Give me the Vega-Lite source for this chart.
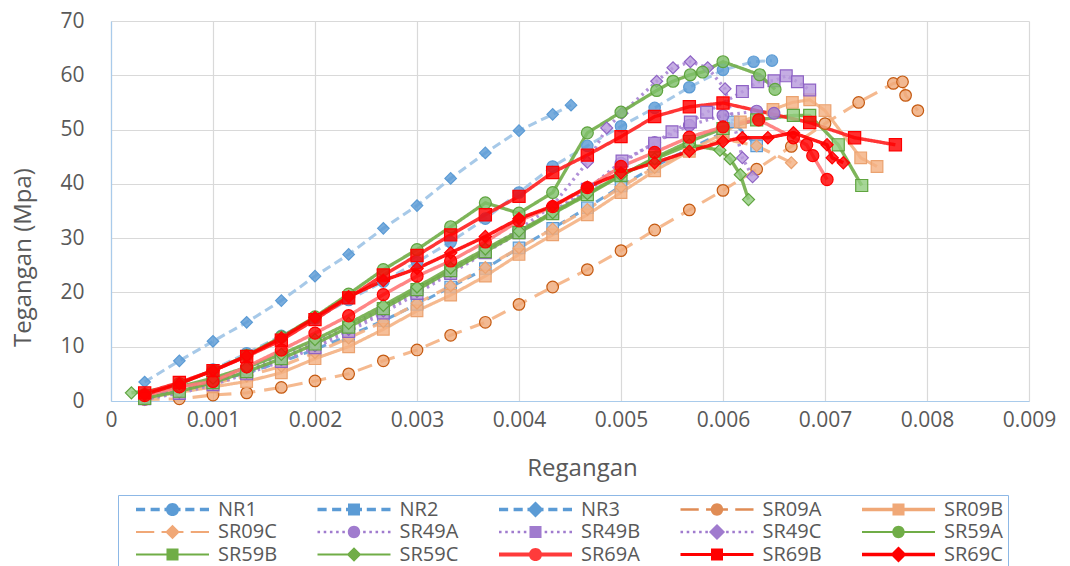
{
"$schema": "https://vega.github.io/schema/vega-lite/v6.json",
"width": 918, "height": 380,
"autosize": {"type": "none"},
"padding": {"left": 111, "top": 21, "right": 41, "bottom": 165},
"background": "white",
"config": {
  "view": {"stroke": null},
  "font": "Open Sans",
  "axis": {"labelFont": "Open Sans", "labelFontSize": 21, "labelColor": "#595959", "titleFont": "Open Sans", "titleFontSize": 24, "titleFontWeight": "normal", "titleColor": "#595959", "gridColor": "#D9D9D9", "gridWidth": 1.2, "domainColor": "#A9CBEB", "domainWidth": 1.2, "ticks": false, "tickSize": 0}
},
"data": {"values": [
{"s":"NR1","x":0.00033,"y":1.0},{"s":"NR1","x":0.00067,"y":3.0},{"s":"NR1","x":0.001,"y":5.8},{"s":"NR1","x":0.00133,"y":8.8},{"s":"NR1","x":0.00167,"y":12},{"s":"NR1","x":0.002,"y":15.2},{"s":"NR1","x":0.00233,"y":18.6},{"s":"NR1","x":0.00267,"y":22},{"s":"NR1","x":0.003,"y":25.6},{"s":"NR1","x":0.00333,"y":29.3},{"s":"NR1","x":0.00367,"y":33.6},{"s":"NR1","x":0.004,"y":38.4},{"s":"NR1","x":0.00433,"y":43.2},{"s":"NR1","x":0.00467,"y":47},{"s":"NR1","x":0.005,"y":50.6},{"s":"NR1","x":0.00533,"y":54},{"s":"NR1","x":0.00567,"y":57.8},{"s":"NR1","x":0.006,"y":61},{"s":"NR1","x":0.0063,"y":62.5},{"s":"NR1","x":0.00648,"y":62.7},
{"s":"NR2","x":0.00033,"y":0.8},{"s":"NR2","x":0.00067,"y":2},{"s":"NR2","x":0.001,"y":3.5},{"s":"NR2","x":0.00133,"y":5.2},{"s":"NR2","x":0.00167,"y":7.2},{"s":"NR2","x":0.002,"y":9.5},{"s":"NR2","x":0.00233,"y":12},{"s":"NR2","x":0.00267,"y":14.8},{"s":"NR2","x":0.003,"y":17.8},{"s":"NR2","x":0.00333,"y":21},{"s":"NR2","x":0.00367,"y":24.4},{"s":"NR2","x":0.004,"y":28.2},{"s":"NR2","x":0.00433,"y":31.8},{"s":"NR2","x":0.00467,"y":35.6},{"s":"NR2","x":0.005,"y":39.6},{"s":"NR2","x":0.00533,"y":43.2},{"s":"NR2","x":0.00567,"y":46.5},{"s":"NR2","x":0.006,"y":49.4},{"s":"NR2","x":0.0061,"y":51.4},{"s":"NR2","x":0.00633,"y":47},
{"s":"NR3","x":0.00033,"y":3.5},{"s":"NR3","x":0.00067,"y":7.4},{"s":"NR3","x":0.001,"y":11},{"s":"NR3","x":0.00133,"y":14.5},{"s":"NR3","x":0.00167,"y":18.5},{"s":"NR3","x":0.002,"y":23},{"s":"NR3","x":0.00233,"y":27},{"s":"NR3","x":0.00267,"y":31.8},{"s":"NR3","x":0.003,"y":36},{"s":"NR3","x":0.00333,"y":41},{"s":"NR3","x":0.00367,"y":45.7},{"s":"NR3","x":0.004,"y":49.8},{"s":"NR3","x":0.00433,"y":52.8},{"s":"NR3","x":0.00451,"y":54.5},
{"s":"SR09A","x":0.00033,"y":0.3},{"s":"SR09A","x":0.00067,"y":0.4},{"s":"SR09A","x":0.001,"y":1.1},{"s":"SR09A","x":0.00133,"y":1.5},{"s":"SR09A","x":0.00167,"y":2.5},{"s":"SR09A","x":0.002,"y":3.7},{"s":"SR09A","x":0.00233,"y":5},{"s":"SR09A","x":0.00267,"y":7.4},{"s":"SR09A","x":0.003,"y":9.4},{"s":"SR09A","x":0.00333,"y":12.1},{"s":"SR09A","x":0.00367,"y":14.5},{"s":"SR09A","x":0.004,"y":17.8},{"s":"SR09A","x":0.00433,"y":21},{"s":"SR09A","x":0.00467,"y":24.2},{"s":"SR09A","x":0.005,"y":27.7},{"s":"SR09A","x":0.00533,"y":31.5},{"s":"SR09A","x":0.00567,"y":35.2},{"s":"SR09A","x":0.006,"y":38.8},{"s":"SR09A","x":0.00633,"y":42.7},{"s":"SR09A","x":0.00667,"y":46.9},{"s":"SR09A","x":0.007,"y":51.1},{"s":"SR09A","x":0.00733,"y":55},{"s":"SR09A","x":0.00767,"y":58.5},{"s":"SR09A","x":0.00776,"y":58.8},{"s":"SR09A","x":0.00779,"y":56.3},{"s":"SR09A","x":0.00791,"y":53.5},
{"s":"SR09B","x":0.00033,"y":0.6},{"s":"SR09B","x":0.00067,"y":1.6},{"s":"SR09B","x":0.001,"y":2.6},{"s":"SR09B","x":0.00133,"y":3.6},{"s":"SR09B","x":0.00167,"y":5.2},{"s":"SR09B","x":0.002,"y":7.8},{"s":"SR09B","x":0.00233,"y":10},{"s":"SR09B","x":0.00267,"y":13.2},{"s":"SR09B","x":0.003,"y":16.6},{"s":"SR09B","x":0.00333,"y":19.5},{"s":"SR09B","x":0.00367,"y":23},{"s":"SR09B","x":0.004,"y":27},{"s":"SR09B","x":0.00433,"y":30.6},{"s":"SR09B","x":0.00467,"y":34.3},{"s":"SR09B","x":0.005,"y":38.4},{"s":"SR09B","x":0.00533,"y":42.4},{"s":"SR09B","x":0.00567,"y":46},{"s":"SR09B","x":0.006,"y":49.3},{"s":"SR09B","x":0.00617,"y":51.4},{"s":"SR09B","x":0.00649,"y":53.7},{"s":"SR09B","x":0.00668,"y":55},{"s":"SR09B","x":0.00685,"y":55.5},{"s":"SR09B","x":0.007,"y":53.5},{"s":"SR09B","x":0.00735,"y":44.8},{"s":"SR09B","x":0.00751,"y":43.2},
{"s":"SR09C","x":0.00033,"y":0.7},{"s":"SR09C","x":0.00067,"y":2},{"s":"SR09C","x":0.001,"y":3.2},{"s":"SR09C","x":0.00133,"y":4.6},{"s":"SR09C","x":0.00167,"y":6.4},{"s":"SR09C","x":0.002,"y":8.9},{"s":"SR09C","x":0.00233,"y":11.6},{"s":"SR09C","x":0.00267,"y":14.6},{"s":"SR09C","x":0.003,"y":18},{"s":"SR09C","x":0.00333,"y":21.2},{"s":"SR09C","x":0.00367,"y":24.6},{"s":"SR09C","x":0.004,"y":28.2},{"s":"SR09C","x":0.00433,"y":31.7},{"s":"SR09C","x":0.00467,"y":35.3},{"s":"SR09C","x":0.005,"y":39.4},{"s":"SR09C","x":0.00533,"y":43},{"s":"SR09C","x":0.00567,"y":46},{"s":"SR09C","x":0.006,"y":48.3},{"s":"SR09C","x":0.00633,"y":47},{"s":"SR09C","x":0.00667,"y":43.9},
{"s":"SR49A","x":0.00033,"y":0.5},{"s":"SR49A","x":0.00067,"y":1.9},{"s":"SR49A","x":0.001,"y":3.6},{"s":"SR49A","x":0.00133,"y":5.7},{"s":"SR49A","x":0.00167,"y":8.2},{"s":"SR49A","x":0.002,"y":10.8},{"s":"SR49A","x":0.00233,"y":13.8},{"s":"SR49A","x":0.00267,"y":17.2},{"s":"SR49A","x":0.003,"y":20.6},{"s":"SR49A","x":0.00333,"y":24.2},{"s":"SR49A","x":0.00367,"y":27.8},{"s":"SR49A","x":0.004,"y":31.3},{"s":"SR49A","x":0.00433,"y":34.8},{"s":"SR49A","x":0.00467,"y":38.4},{"s":"SR49A","x":0.005,"y":43.8},{"s":"SR49A","x":0.00533,"y":47.6},{"s":"SR49A","x":0.00567,"y":50.8},{"s":"SR49A","x":0.006,"y":52.6},{"s":"SR49A","x":0.00633,"y":53.4},{"s":"SR49A","x":0.0065,"y":53},
{"s":"SR49B","x":0.00033,"y":0.4},{"s":"SR49B","x":0.00067,"y":1.4},{"s":"SR49B","x":0.001,"y":3},{"s":"SR49B","x":0.00133,"y":5},{"s":"SR49B","x":0.00167,"y":7.3},{"s":"SR49B","x":0.002,"y":9.8},{"s":"SR49B","x":0.00233,"y":12.8},{"s":"SR49B","x":0.00267,"y":16.2},{"s":"SR49B","x":0.003,"y":19.8},{"s":"SR49B","x":0.00333,"y":23.5},{"s":"SR49B","x":0.00367,"y":27.3},{"s":"SR49B","x":0.004,"y":31},{"s":"SR49B","x":0.00433,"y":34.8},{"s":"SR49B","x":0.00467,"y":39},{"s":"SR49B","x":0.00501,"y":44.2},{"s":"SR49B","x":0.00533,"y":47.5},{"s":"SR49B","x":0.0055,"y":49.6},{"s":"SR49B","x":0.00568,"y":51.4},{"s":"SR49B","x":0.00584,"y":53.2},{"s":"SR49B","x":0.00619,"y":57},{"s":"SR49B","x":0.00634,"y":58.8},{"s":"SR49B","x":0.0065,"y":59},{"s":"SR49B","x":0.00662,"y":59.9},{"s":"SR49B","x":0.00673,"y":58.8},{"s":"SR49B","x":0.00685,"y":57.3},
{"s":"SR49C","x":0.00033,"y":0.3},{"s":"SR49C","x":0.00067,"y":1.6},{"s":"SR49C","x":0.001,"y":3.3},{"s":"SR49C","x":0.00133,"y":5.3},{"s":"SR49C","x":0.00167,"y":7.6},{"s":"SR49C","x":0.002,"y":10.2},{"s":"SR49C","x":0.00233,"y":13.2},{"s":"SR49C","x":0.00267,"y":16.6},{"s":"SR49C","x":0.003,"y":20.2},{"s":"SR49C","x":0.00333,"y":23.8},{"s":"SR49C","x":0.00367,"y":27.6},{"s":"SR49C","x":0.004,"y":31.6},{"s":"SR49C","x":0.00433,"y":36},{"s":"SR49C","x":0.00467,"y":44},{"s":"SR49C","x":0.00486,"y":50.3},{"s":"SR49C","x":0.00501,"y":53},{"s":"SR49C","x":0.00535,"y":58.9},{"s":"SR49C","x":0.00551,"y":61.4},{"s":"SR49C","x":0.00568,"y":62.5},{"s":"SR49C","x":0.00585,"y":61.4},{"s":"SR49C","x":0.00602,"y":57.5},{"s":"SR49C","x":0.00619,"y":44.8},{"s":"SR49C","x":0.00629,"y":41.3},
{"s":"SR59A","x":0.00033,"y":1.2},{"s":"SR59A","x":0.00067,"y":3.2},{"s":"SR59A","x":0.001,"y":5.6},{"s":"SR59A","x":0.00133,"y":8.4},{"s":"SR59A","x":0.00167,"y":11.8},{"s":"SR59A","x":0.002,"y":15.5},{"s":"SR59A","x":0.00233,"y":19.7},{"s":"SR59A","x":0.00267,"y":24.2},{"s":"SR59A","x":0.003,"y":27.9},{"s":"SR59A","x":0.00333,"y":32.1},{"s":"SR59A","x":0.00367,"y":36.5},{"s":"SR59A","x":0.004,"y":34.6},{"s":"SR59A","x":0.00433,"y":38.4},{"s":"SR59A","x":0.00467,"y":49.4},{"s":"SR59A","x":0.005,"y":53.2},{"s":"SR59A","x":0.00535,"y":57.2},{"s":"SR59A","x":0.00551,"y":58.9},{"s":"SR59A","x":0.00568,"y":60.1},{"s":"SR59A","x":0.0058,"y":60.6},{"s":"SR59A","x":0.006,"y":62.5},{"s":"SR59A","x":0.00636,"y":60.1},{"s":"SR59A","x":0.00651,"y":57.4},
{"s":"SR59B","x":0.00033,"y":0.5},{"s":"SR59B","x":0.00067,"y":1.8},{"s":"SR59B","x":0.001,"y":3.4},{"s":"SR59B","x":0.00133,"y":5.4},{"s":"SR59B","x":0.00167,"y":7.8},{"s":"SR59B","x":0.002,"y":10.5},{"s":"SR59B","x":0.00233,"y":13.6},{"s":"SR59B","x":0.00267,"y":17},{"s":"SR59B","x":0.003,"y":20.5},{"s":"SR59B","x":0.00333,"y":24},{"s":"SR59B","x":0.00367,"y":27.5},{"s":"SR59B","x":0.004,"y":31},{"s":"SR59B","x":0.00433,"y":34.5},{"s":"SR59B","x":0.00467,"y":38},{"s":"SR59B","x":0.005,"y":41.5},{"s":"SR59B","x":0.00533,"y":44.8},{"s":"SR59B","x":0.00567,"y":47.8},{"s":"SR59B","x":0.006,"y":50.2},{"s":"SR59B","x":0.00633,"y":51.8},{"s":"SR59B","x":0.00669,"y":52.6},{"s":"SR59B","x":0.00685,"y":52.6},{"s":"SR59B","x":0.00713,"y":47.2},{"s":"SR59B","x":0.00736,"y":39.7},
{"s":"SR59C","x":0.0002,"y":1.5},{"s":"SR59C","x":0.00067,"y":2.6},{"s":"SR59C","x":0.001,"y":4.2},{"s":"SR59C","x":0.00133,"y":6.2},{"s":"SR59C","x":0.00167,"y":8.6},{"s":"SR59C","x":0.002,"y":11.3},{"s":"SR59C","x":0.00233,"y":14.3},{"s":"SR59C","x":0.00267,"y":17.6},{"s":"SR59C","x":0.003,"y":21},{"s":"SR59C","x":0.00333,"y":24.5},{"s":"SR59C","x":0.00367,"y":28},{"s":"SR59C","x":0.004,"y":31.3},{"s":"SR59C","x":0.00433,"y":34.7},{"s":"SR59C","x":0.00467,"y":38.2},{"s":"SR59C","x":0.005,"y":41.6},{"s":"SR59C","x":0.00533,"y":44.6},{"s":"SR59C","x":0.00567,"y":47.2},{"s":"SR59C","x":0.00597,"y":46.2},{"s":"SR59C","x":0.00607,"y":44.6},{"s":"SR59C","x":0.00617,"y":41.7},{"s":"SR59C","x":0.00625,"y":37.1},
{"s":"SR69A","x":0.00033,"y":1},{"s":"SR69A","x":0.00067,"y":2.6},{"s":"SR69A","x":0.001,"y":3.6},{"s":"SR69A","x":0.00133,"y":6.3},{"s":"SR69A","x":0.00167,"y":9.4},{"s":"SR69A","x":0.002,"y":12.5},{"s":"SR69A","x":0.00233,"y":15.7},{"s":"SR69A","x":0.00267,"y":19.6},{"s":"SR69A","x":0.003,"y":23},{"s":"SR69A","x":0.00333,"y":25.8},{"s":"SR69A","x":0.00367,"y":29.3},{"s":"SR69A","x":0.004,"y":33.2},{"s":"SR69A","x":0.00433,"y":35.8},{"s":"SR69A","x":0.00467,"y":39.3},{"s":"SR69A","x":0.005,"y":43.2},{"s":"SR69A","x":0.00533,"y":45.8},{"s":"SR69A","x":0.00567,"y":48.6},{"s":"SR69A","x":0.006,"y":50.5},{"s":"SR69A","x":0.00635,"y":51.8},{"s":"SR69A","x":0.00669,"y":48.5},{"s":"SR69A","x":0.00682,"y":47.2},{"s":"SR69A","x":0.00688,"y":45.2},{"s":"SR69A","x":0.00702,"y":40.8},
{"s":"SR69B","x":0.00033,"y":1.5},{"s":"SR69B","x":0.00067,"y":3.4},{"s":"SR69B","x":0.001,"y":5.6},{"s":"SR69B","x":0.00133,"y":8.2},{"s":"SR69B","x":0.00167,"y":11.2},{"s":"SR69B","x":0.002,"y":15},{"s":"SR69B","x":0.00233,"y":19},{"s":"SR69B","x":0.00267,"y":23.2},{"s":"SR69B","x":0.003,"y":26.8},{"s":"SR69B","x":0.00333,"y":30.6},{"s":"SR69B","x":0.00367,"y":34.3},{"s":"SR69B","x":0.004,"y":37.7},{"s":"SR69B","x":0.00433,"y":42.1},{"s":"SR69B","x":0.00467,"y":45.3},{"s":"SR69B","x":0.005,"y":48.7},{"s":"SR69B","x":0.00533,"y":52.4},{"s":"SR69B","x":0.00567,"y":54.2},{"s":"SR69B","x":0.006,"y":54.9},{"s":"SR69B","x":0.00685,"y":51.3},{"s":"SR69B","x":0.00729,"y":48.5},{"s":"SR69B","x":0.00769,"y":47.2},
{"s":"SR69C","x":0.00033,"y":1.2},{"s":"SR69C","x":0.00067,"y":3.2},{"s":"SR69C","x":0.001,"y":5.6},{"s":"SR69C","x":0.00133,"y":8.3},{"s":"SR69C","x":0.00167,"y":11.6},{"s":"SR69C","x":0.002,"y":15.4},{"s":"SR69C","x":0.00233,"y":19.2},{"s":"SR69C","x":0.00267,"y":22.2},{"s":"SR69C","x":0.003,"y":24.4},{"s":"SR69C","x":0.00333,"y":27.3},{"s":"SR69C","x":0.00367,"y":30.3},{"s":"SR69C","x":0.004,"y":33.6},{"s":"SR69C","x":0.00433,"y":35.9},{"s":"SR69C","x":0.00467,"y":39.4},{"s":"SR69C","x":0.005,"y":42},{"s":"SR69C","x":0.00533,"y":43.9},{"s":"SR69C","x":0.00567,"y":46},{"s":"SR69C","x":0.006,"y":47.8},{"s":"SR69C","x":0.00619,"y":48.5},{"s":"SR69C","x":0.00644,"y":48.5},{"s":"SR69C","x":0.00669,"y":49.4},{"s":"SR69C","x":0.00702,"y":47.2},{"s":"SR69C","x":0.00707,"y":44.8},{"s":"SR69C","x":0.00718,"y":43.9}
]},
"encoding": {
  "x": {"field": "x", "type": "quantitative", "scale": {"domain": [0, 0.009], "nice": false, "zero": false},
        "axis": {"values": [0,0.001,0.002,0.003,0.004,0.005,0.006,0.007,0.008,0.009], "format": ".3~f", "labelPadding": 8, "labelFlush": false, "labelOverlap": false, "title": "Regangan", "titlePadding": 26, "titleX": 471}},
  "y": {"field": "y", "type": "quantitative", "scale": {"domain": [0, 70], "nice": false},
        "axis": {"values": [0,10,20,30,40,50,60,70], "labelPadding": 27, "labelFlush": false, "labelOverlap": false, "title": "Tegangan (Mpa)", "titlePadding": 24, "titleY": 236}}
},
"layer": [
  {
    "mark": {"type": "line", "strokeOpacity": 0.9},
    "encoding": {
      "stroke": {"field": "s", "type": "nominal", "legend": null,
        "scale": {"domain": ["NR1","NR2","NR3","SR09A","SR09B","SR09C","SR49A","SR49B","SR49C","SR59A","SR59B","SR59C","SR69A","SR69B","SR69C"],
                  "range": ["#9DC3E6","#5B9BD5","#9DC3E6","#F4B183","#F4B183","#F4B183","#A985D4","#A985D4","#A985D4","#70AD47","#70AD47","#70AD47","#FF7878","#FF1F1F","#FF0000"]}},
      "strokeDash": {"field": "s", "type": "nominal", "legend": null,
        "scale": {"domain": ["NR1","NR2","NR3","SR09A","SR09B","SR09C","SR49A","SR49B","SR49C","SR59A","SR59B","SR59C","SR69A","SR69B","SR69C"],
                  "range": [[9,5],[9,6],[9,5],[15,9],[1,0],[15,9],[2.5,4],[2.5,4],[2.5,4],[1,0],[1,0],[1,0],[1,0],[1,0],[1,0]]}},
      "strokeWidth": {"field": "s", "type": "nominal", "legend": null,
        "scale": {"domain": ["NR1","NR2","NR3","SR09A","SR09B","SR09C","SR49A","SR49B","SR49C","SR59A","SR59B","SR59C","SR69A","SR69B","SR69C"],
                  "range": [3,3.5,3,2,3.2,1.6,2.5,2.5,2.5,1.6,1.6,1.6,4,2,3.2]}}
    }
  },
  {
    "mark": {"type": "point", "filled": true, "fillOpacity": 0.82, "strokeWidth": 1.2, "opacity": 1},
    "encoding": {
      "shape": {"field": "s", "type": "nominal", "legend": null,
        "scale": {"domain": ["NR1","NR2","NR3","SR09A","SR09B","SR09C","SR49A","SR49B","SR49C","SR59A","SR59B","SR59C","SR69A","SR69B","SR69C"],
                  "range": ["circle","square","diamond","circle","square","diamond","circle","square","diamond","circle","square","diamond","circle","square","diamond"]}},
      "fill": {"field": "s", "type": "nominal", "legend": null,
        "scale": {"domain": ["NR1","NR2","NR3","SR09A","SR09B","SR09C","SR49A","SR49B","SR49C","SR59A","SR59B","SR59C","SR69A","SR69B","SR69C"],
                  "range": ["#5B9BD5","#A8CBEE","#5B9BD5","#EFA97A","#F4B183","#F4B183","#A47FD1","#B89BDD","#B89BDD","#7FC06A","#92CD80","#92CD80","#FF0000","#FF0000","#FF0000"]}},
      "stroke": {"field": "s", "type": "nominal", "legend": null,
        "scale": {"domain": ["NR1","NR2","NR3","SR09A","SR09B","SR09C","SR49A","SR49B","SR49C","SR59A","SR59B","SR59C","SR69A","SR69B","SR69C"],
                  "range": ["#5B9BD5","#5B9BD5","#5B9BD5","#C55A11","#EBA26F","#EBA26F","#8E63C5","#8E63C5","#8E63C5","#5FA43F","#5FA43F","#5FA43F","#FF0000","#FF0000","#FF0000"]}},
      "size": {"field": "s", "type": "nominal", "legend": null,
        "scale": {"domain": ["NR1","NR2","NR3","SR09A","SR09B","SR09C","SR49A","SR49B","SR49C","SR59A","SR59B","SR59C","SR69A","SR69B","SR69C"],
                  "range": [130,150,260,130,150,230,130,150,260,130,150,230,130,150,260]}}
    }
  },
  {
    "mark": {"type": "point", "filled": true, "opacity": 0},
    "encoding": {
      "color": {"field": "s", "type": "nominal",
        "scale": {"domain": ["NR1","NR2","NR3","SR09A","SR09B","SR09C","SR49A","SR49B","SR49C","SR59A","SR59B","SR59C","SR69A","SR69B","SR69C"],
                  "range": ["#5B9BD5","#5B9BD5","#5B9BD5","#E08C55","#F0A877","#F0A877","#A07BCE","#A07BCE","#A07BCE","#70AD47","#70AD47","#70AD47","#FF3B3B","#FF0000","#FF0000"]},
        "legend": {"title": null, "orient": "none", "direction": "horizontal", "legendX": 7, "legendY": 474, "columns": 5, "gridAlign": "all", "symbolSize": 5329, "symbolStrokeWidth": 0, "symbolOpacity": 1, "symbolOffset": 14, "labelOffset": 9, "clipHeight": 21, "rowPadding": 1.5, "columnPadding": 25.5, "labelFontSize": 20, "labelColor": "#595959", "labelFont": "Open Sans", "labelLimit": 200, "strokeColor": "#8DB8E6", "fillColor": "white", "padding": 4}},
      "shape": {"field": "s", "type": "nominal",
        "scale": {"domain": ["NR1","NR2","NR3","SR09A","SR09B","SR09C","SR49A","SR49B","SR49C","SR59A","SR59B","SR59C","SR69A","SR69B","SR69C"],
                  "range": [
"M -1 -0.045 H -0.75 V 0.045 H -1 Z M -0.6 -0.045 H -0.35 V 0.045 H -0.6 Z M -0.22 -0.045 H 0.22 V 0.045 H -0.22 Z M 0.35 -0.045 H 0.6 V 0.045 H 0.35 Z M 0.75 -0.045 H 1 V 0.045 H 0.75 Z M 0.18 0 A 0.18 0.18 0 1 1 -0.18 0 A 0.18 0.18 0 1 1 0.18 0 Z",
"M -1 -0.05 H -0.75 V 0.05 H -1 Z M -0.6 -0.05 H -0.35 V 0.05 H -0.6 Z M -0.22 -0.05 H 0.22 V 0.05 H -0.22 Z M 0.35 -0.05 H 0.6 V 0.05 H 0.35 Z M 0.75 -0.05 H 1 V 0.05 H 0.75 Z M -0.165 -0.165 H 0.165 V 0.165 H -0.165 Z",
"M -1 -0.045 H -0.75 V 0.045 H -1 Z M -0.6 -0.045 H -0.35 V 0.045 H -0.6 Z M -0.22 -0.045 H 0.22 V 0.045 H -0.22 Z M 0.35 -0.045 H 0.6 V 0.045 H 0.35 Z M 0.75 -0.045 H 1 V 0.045 H 0.75 Z M 0 -0.22 L 0.22 0 L 0 0.22 L -0.22 0 Z",
"M -1 -0.035 H -0.5 V 0.035 H -1 Z M -0.3 -0.035 H 0.3 V 0.035 H -0.3 Z M 0.5 -0.035 H 1 V 0.035 H 0.5 Z M 0.17 0 A 0.17 0.17 0 1 1 -0.17 0 A 0.17 0.17 0 1 1 0.17 0 Z",
"M -1 -0.05 H 1 V 0.05 H -1 Z M -0.165 -0.165 H 0.165 V 0.165 H -0.165 Z",
"M -1 -0.03 H -0.5 V 0.03 H -1 Z M -0.3 -0.03 H 0.3 V 0.03 H -0.3 Z M 0.5 -0.03 H 1 V 0.03 H 0.5 Z M 0 -0.2 L 0.2 0 L 0 0.2 L -0.2 0 Z",
"M -1 -0.035 H -0.93 V 0.035 H -1 Z M -0.83 -0.035 H -0.76 V 0.035 H -0.83 Z M -0.66 -0.035 H -0.59 V 0.035 H -0.66 Z M -0.49 -0.035 H -0.42 V 0.035 H -0.49 Z M -0.32 -0.035 H -0.25 V 0.035 H -0.32 Z M 0.25 -0.035 H 0.32 V 0.035 H 0.25 Z M 0.42 -0.035 H 0.49 V 0.035 H 0.42 Z M 0.59 -0.035 H 0.66 V 0.035 H 0.59 Z M 0.76 -0.035 H 0.83 V 0.035 H 0.76 Z M 0.93 -0.035 H 1 V 0.035 H 0.93 Z M 0.17 0 A 0.17 0.17 0 1 1 -0.17 0 A 0.17 0.17 0 1 1 0.17 0 Z",
"M -1 -0.035 H -0.93 V 0.035 H -1 Z M -0.83 -0.035 H -0.76 V 0.035 H -0.83 Z M -0.66 -0.035 H -0.59 V 0.035 H -0.66 Z M -0.49 -0.035 H -0.42 V 0.035 H -0.49 Z M -0.32 -0.035 H -0.25 V 0.035 H -0.32 Z M 0.25 -0.035 H 0.32 V 0.035 H 0.25 Z M 0.42 -0.035 H 0.49 V 0.035 H 0.42 Z M 0.59 -0.035 H 0.66 V 0.035 H 0.59 Z M 0.76 -0.035 H 0.83 V 0.035 H 0.76 Z M 0.93 -0.035 H 1 V 0.035 H 0.93 Z M -0.165 -0.165 H 0.165 V 0.165 H -0.165 Z",
"M -1 -0.035 H -0.93 V 0.035 H -1 Z M -0.83 -0.035 H -0.76 V 0.035 H -0.83 Z M -0.66 -0.035 H -0.59 V 0.035 H -0.66 Z M -0.49 -0.035 H -0.42 V 0.035 H -0.49 Z M -0.32 -0.035 H -0.25 V 0.035 H -0.32 Z M 0.25 -0.035 H 0.32 V 0.035 H 0.25 Z M 0.42 -0.035 H 0.49 V 0.035 H 0.42 Z M 0.59 -0.035 H 0.66 V 0.035 H 0.59 Z M 0.76 -0.035 H 0.83 V 0.035 H 0.76 Z M 0.93 -0.035 H 1 V 0.035 H 0.93 Z M 0 -0.22 L 0.22 0 L 0 0.22 L -0.22 0 Z",
"M -1 -0.028 H 1 V 0.028 H -1 Z M 0.17 0 A 0.17 0.17 0 1 1 -0.17 0 A 0.17 0.17 0 1 1 0.17 0 Z",
"M -1 -0.028 H 1 V 0.028 H -1 Z M -0.165 -0.165 H 0.165 V 0.165 H -0.165 Z",
"M -1 -0.028 H 1 V 0.028 H -1 Z M 0 -0.2 L 0.2 0 L 0 0.2 L -0.2 0 Z",
"M -1 -0.055 H 1 V 0.055 H -1 Z M 0.18 0 A 0.18 0.18 0 1 1 -0.18 0 A 0.18 0.18 0 1 1 0.18 0 Z",
"M -1 -0.04 H 1 V 0.04 H -1 Z M -0.165 -0.165 H 0.165 V 0.165 H -0.165 Z",
"M -1 -0.05 H 1 V 0.05 H -1 Z M 0 -0.22 L 0.22 0 L 0 0.22 L -0.22 0 Z"
]},
        "legend": {"title": null, "orient": "none", "direction": "horizontal", "legendX": 7, "legendY": 474, "columns": 5, "gridAlign": "all", "symbolSize": 5329, "symbolStrokeWidth": 0, "symbolOpacity": 1, "symbolOffset": 14, "labelOffset": 9, "clipHeight": 21, "rowPadding": 1.5, "columnPadding": 25.5, "labelFontSize": 20, "labelColor": "#595959", "labelFont": "Open Sans", "labelLimit": 200, "strokeColor": "#8DB8E6", "fillColor": "white", "padding": 4}}
    }
  }
],
"resolve": {"scale": {"stroke": "independent", "shape": "independent", "color": "independent"}}
}
